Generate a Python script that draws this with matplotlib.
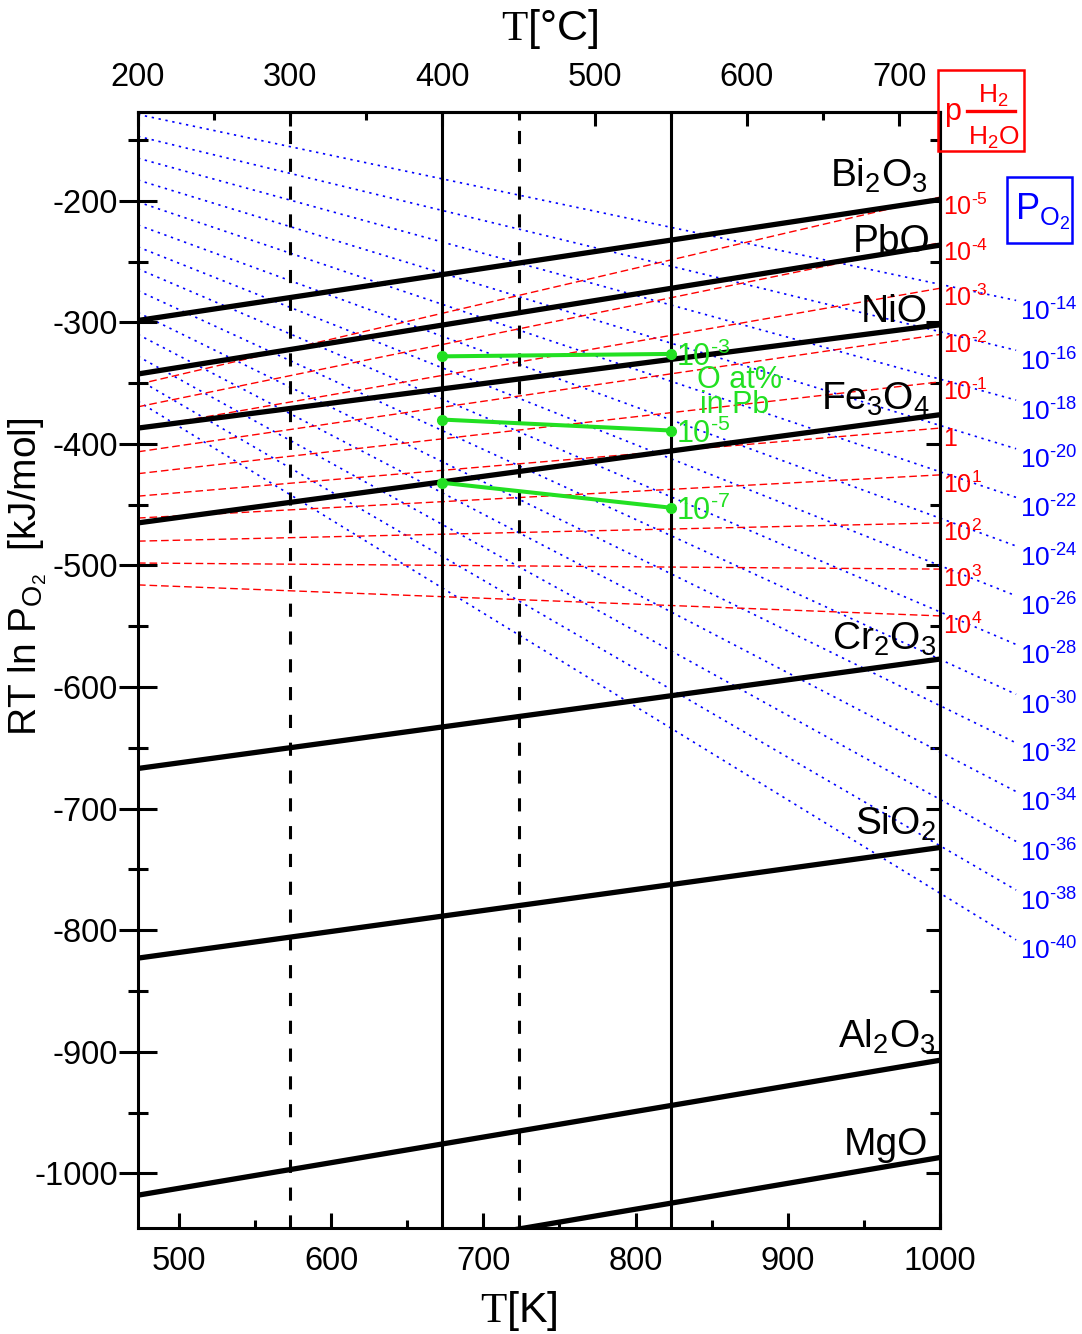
import numpy as np
import matplotlib
matplotlib.use("Agg")
import matplotlib.pyplot as plt
from matplotlib.patches import Rectangle
from matplotlib.lines import Line2D
from matplotlib.ticker import MultipleLocator, NullFormatter
from matplotlib.transforms import offset_copy

plt.rcParams["font.family"] = ["Liberation Sans", "DejaVu Sans"]
plt.rcParams["mathtext.fontset"] = "custom"
plt.rcParams["mathtext.rm"] = "Liberation Sans"
plt.rcParams["mathtext.it"] = "Liberation Sans:italic"
plt.rcParams["mathtext.bf"] = "Liberation Sans:bold"
plt.rcParams["mathtext.sf"] = "Liberation Serif"
plt.rcParams["axes.unicode_minus"] = False

# temperature span of the diagram (K)
t_min, t_max = 473.15, 1000.0

# oxide lines, RT ln pO2 [kJ/mol] at t_min and t_max
oxides = ["Bi$_2$O$_3$", "PbO", "NiO", "Fe$_3$O$_4$",
          "Cr$_2$O$_3$", "SiO$_2$", "Al$_2$O$_3$", "MgO"]
oxide_left = [-298.5, -342.5, -387, -465, -667, -823, -1018, -1099]
oxide_right = [-199, -236.5, -302, -376, -577, -732, -907, -987]

# H2/H2O ratio lines (red)
h2_labels = [r"10$^{\text{-5}}$", r"10$^{\text{-4}}$", r"10$^{\text{-3}}$",
             r"10$^{\text{-2}}$", r"10$^{\text{-1}}$", "1", "10$^{1}$",
             "10$^{2}$", "10$^{3}$", "10$^{4}$"]
h2_left = [-351, -369.5, -387.5, -406.5, -424.5, -443, -461, -480, -498, -516]
h2_right = [-197, -234.5, -272, -310, -349, -387, -425.5, -465, -503, -541.5]

# pO2 isobars (blue), extend past the right axis
po2_labels = [r"10$^{\text{-%d}}$" % n for n in
              (14, 16, 18, 20, 22, 24, 26, 28, 30, 32, 34, 36, 38, 40)]
po2_left = [-129, -147, -165, -183, -201, -220, -238, -256, -274, -292,
            -310, -328, -347, -365]
po2_t_end = 1050.0
po2_end = [-282, -323, -364, -404, -444, -484, -525, -565, -606, -646,
           -686, -727, -767, -808]

# oxygen in Pb (green)
o_pb_labels = [r"10$^{\text{-3}}$", r"10$^{\text{-5}}$", r"10$^{\text{-7}}$"]
o_pb_t = [673.15, 823.15]
o_pb_vals = [[-328, -326], [-380, -389], [-432, -452.5]]

# reference temperatures
solid_t = [673.15, 823.15]
dashed_t = [573.15, 723.15]

W, H = 1082, 1334


def fp(x, y):
    # pixel position -> figure fraction
    return x / W, 1 - y / H


fig = plt.figure(figsize=(W / 100, H / 100), dpi=100)
ax = fig.add_axes([138 / W, 1 - 1228 / H, (940 - 138) / W, (1228 - 112) / H])
ax.set_xlim(t_min, t_max)
ax.set_ylim(-1045, -127)

blue = "#0000ff"
red = "#ff0000"
green = "#22e022"

for lv, ev in zip(po2_left, po2_end):
    ax.plot([t_min, po2_t_end], [lv, ev], color=blue, lw=1.2,
            dashes=(1.4, 2.8), clip_on=False, zorder=1)

for lv, rv in zip(h2_left, h2_right):
    ax.plot([t_min, t_max], [lv, rv], color=red, lw=1.0,
            dashes=(5.5, 2.8), zorder=1)

for t in solid_t:
    ax.axvline(t, color="black", lw=2.2, zorder=2)
for t in dashed_t:
    ax.axvline(t, color="black", lw=2.2, dashes=(4.3, 4.8), zorder=2)

for lv, rv in zip(oxide_left, oxide_right):
    ax.plot([t_min, t_max], [lv, rv], color="black", lw=3.8,
            solid_capstyle="butt", zorder=3)

for vals in o_pb_vals:
    ax.plot(o_pb_t, vals, color=green, lw=2.9, marker="o", ms=7,
            zorder=5, clip_on=False)

# axis ticks
ax.xaxis.set_major_locator(MultipleLocator(100))
ax.xaxis.set_minor_locator(MultipleLocator(50))
ax.yaxis.set_major_locator(MultipleLocator(100))
ax.yaxis.set_minor_locator(MultipleLocator(50))
ax.tick_params(axis="x", which="both", direction="in", top=False, width=2.2,
               labelsize=23.5, pad=13)
ax.tick_params(axis="x", which="major", length=11)
ax.tick_params(axis="x", which="minor", length=6)
ax.tick_params(axis="y", which="both", direction="inout", right=False,
               width=2.2, labelsize=23.5, pad=1)
ax.tick_params(axis="y", which="major", length=27)
ax.tick_params(axis="y", which="minor", length=14)
for s in ax.spines.values():
    s.set_linewidth(2.2)

top = ax.secondary_xaxis("top", functions=(lambda k: k - 273.15,
                                           lambda c: c + 273.15))
top.xaxis.set_major_locator(MultipleLocator(100))
top.xaxis.set_minor_locator(MultipleLocator(50))
top.tick_params(which="both", direction="in", width=2.2, labelsize=23.5, pad=14)
top.tick_params(which="major", length=10)
top.tick_params(which="minor", length=6)
top.spines["top"].set_linewidth(2.2)

right = ax.secondary_yaxis("right")
right.yaxis.set_major_locator(MultipleLocator(100))
right.yaxis.set_minor_locator(MultipleLocator(50))
right.yaxis.set_major_formatter(NullFormatter())
right.tick_params(which="both", direction="in", width=2.2)
right.tick_params(which="major", length=10)
right.tick_params(which="minor", length=7)
right.spines["right"].set_linewidth(2.2)

# axis titles
fig.text(*fp(550, 40), r"$\mathsf{T}$[°C]", fontsize=31, ha="center", va="baseline")
fig.text(*fp(519, 1322), r"$\mathsf{T}$[K]", fontsize=31, ha="center", va="baseline")
fig.text(*fp(28, 577), r"RT ln P$_{\mathrm{O}_2}$  [kJ/mol]", fontsize=28,
         rotation=90, ha="center", va="center")

# oxide labels
oxide_pos = [(928, 187), (930, 252), (928, 322), (930, 410),
             (936, 650), (936, 835), (936, 1048), (928, 1155)]
for name, (x, y) in zip(oxides, oxide_pos):
    fig.text(*fp(x, y), name, fontsize=28, ha="right", va="baseline")

# H2/H2O labels at the line ends
red_tr = offset_copy(ax.transData, fig=fig, x=2.5, y=-13, units="points")
for lab, rv in zip(h2_labels, h2_right):
    ax.text(t_max, rv, lab, transform=red_tr, color=red, fontsize=18,
            ha="left", va="baseline", clip_on=False)

# pO2 labels at the isobar ends
blue_tr = offset_copy(ax.transData, fig=fig, x=3, y=-14.5, units="points")
for lab, ev in zip(po2_labels, po2_end):
    ax.text(po2_t_end, ev, lab, transform=blue_tr, color=blue, fontsize=19,
            ha="left", va="baseline", clip_on=False)

# oxygen in Pb labels
green_tr = offset_copy(ax.transData, fig=fig, x=4, y=-9, units="points")
for lab, vals in zip(o_pb_labels, o_pb_vals):
    ax.text(o_pb_t[1], vals[1], lab, transform=green_tr, color=green,
            fontsize=22, ha="left", va="baseline")
fig.text(*fp(697, 388), "O at%", color=green, fontsize=22, va="baseline")
fig.text(*fp(700, 413), "in Pb", color=green, fontsize=22, va="baseline")

# legend boxes
x0, y0 = fp(938, 151)
x1, y1 = fp(1024, 70)
fig.add_artist(Rectangle((x0, y0), x1 - x0, y1 - y0, transform=fig.transFigure,
                         fill=False, edgecolor=red, lw=1.8))
fig.text(*fp(944, 120), "p", color=red, fontsize=22, va="baseline")
fig.text(*fp(993, 103), "H$_2$", color=red, fontsize=19, ha="center", va="baseline")
fig.text(*fp(994, 145), "H$_2$O", color=red, fontsize=19, ha="center", va="baseline")
bx0, by = fp(967, 111)
bx1, _ = fp(1015, 111)
fig.add_artist(Line2D([bx0, bx1], [by, by], transform=fig.transFigure,
                      color=red, lw=2.4))

x0, y0 = fp(1007, 243)
x1, y1 = fp(1072, 177)
fig.add_artist(Rectangle((x0, y0), x1 - x0, y1 - y0, transform=fig.transFigure,
                         fill=False, edgecolor=blue, lw=1.8))
fig.text(*fp(1015, 220), r"P$_{\mathrm{O}_2}$", color=blue, fontsize=26,
         va="baseline")

fig.savefig("out.png", dpi=100)
